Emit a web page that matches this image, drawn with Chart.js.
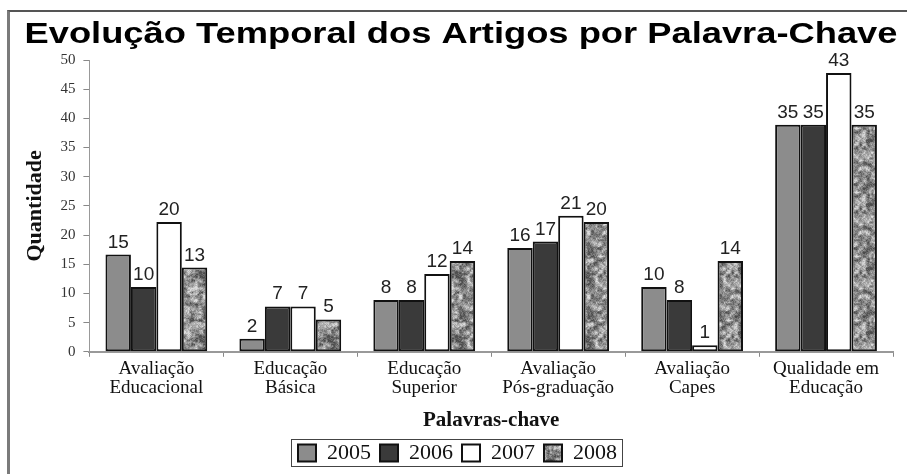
<!DOCTYPE html>
<html>
<head>
<meta charset="utf-8">
<script src="https://cdn.jsdelivr.net/npm/chart.js@4/dist/chart.umd.min.js"></script>
<style>
  html, body { margin: 0; padding: 0; background: #fff; }
  #wrap { position: relative; width: 907px; height: 474px; }
  #frame { position: absolute; left: 7px; top: 10px; right: 0; bottom: 0;
           border-left: 3px solid #7a7a7a; border-top: 2px solid #555; pointer-events: none; }
  canvas { position: absolute; left: 0; top: 0; }
</style>
</head>
<body>
<div id="wrap">
  <canvas id="chart" width="907" height="474"></canvas>
  <div id="frame"></div>
</div>
<script>
// Data
const chartTitle = 'Evolução Temporal dos Artigos por Palavra-Chave';
const categories = [
    ['Avaliação', 'Educacional'],
    ['Educação', 'Básica'],
    ['Educação', 'Superior'],
    ['Avaliação', 'Pós-graduação'],
    ['Avaliação', 'Capes'],
    ['Qualidade em', 'Educação']
];
const years = ['2005', '2006', '2007', '2008'];
const values2005 = [15, 2, 8, 16, 10, 35];
const values2006 = [10, 7, 8, 17, 8, 35];
const values2007 = [20, 7, 12, 21, 1, 43];
const values2008 = [13, 5, 14, 20, 14, 35];
// the printed axis runs 0..50, but the bars are drawn against 0..45
const yTickLabels = ['0', '5', '10', '15', '20', '25', '30', '35', '40', '45', '50'];
const yMax = 45;

// granite-like gray texture for 2008 (hash value noise, fixed seed)
function makeTexture() {
    const size = 64;
    const hash = (x, y) => {
        let h = (x * 374761393 + y * 668265263) | 0;
        h = Math.imul(h ^ (h >>> 13), 1274126177);
        return ((h ^ (h >>> 16)) >>> 0) / 4294967295;
    };
    const noise = (x, y, cell) => {
        const gx = Math.floor(x / cell), gy = Math.floor(y / cell);
        const fx = x / cell - gx, fy = y / cell - gy;
        const n = size / cell;
        const a = hash(gx % n, gy % n), b = hash((gx + 1) % n, gy % n);
        const c = hash(gx % n, (gy + 1) % n), d = hash((gx + 1) % n, (gy + 1) % n);
        const sx = fx * fx * (3 - 2 * fx), sy = fy * fy * (3 - 2 * fy);
        return (a + (b - a) * sx) * (1 - sy) + (c + (d - c) * sx) * sy;
    };
    const cv = document.createElement('canvas');
    cv.width = size; cv.height = size;
    const g = cv.getContext('2d');
    const img = g.createImageData(size, size);
    for (let y = 0; y < size; y++) {
        for (let x = 0; x < size; x++) {
            const n = 0.5 * noise(x, y, 4) + 0.3 * noise(x, y, 2) + 0.2 * noise(x, y, 1);
            const v = Math.max(75, Math.min(220, 30 + n * 240));
            const k = (y * size + x) * 4;
            img.data[k] = img.data[k + 1] = img.data[k + 2] = v;
            img.data[k + 3] = 255;
        }
    }
    g.putImageData(img, 0, 0);
    return g.createPattern(cv, 'repeat');
}

const serif = "'Liberation Serif', 'Times New Roman', serif";
const sans = "'Liberation Sans', Arial, sans-serif";

// wide bold title, drawn across the top
const wideTitle = {
    id: 'wideTitle',
    afterDraw(chart) {
        const ctx = chart.ctx;
        ctx.save();
        ctx.font = 'bold 29px ' + sans;
        ctx.fillStyle = '#000';
        ctx.textBaseline = 'alphabetic';
        ctx.textAlign = 'center';
        const w = ctx.measureText(chartTitle).width;
        ctx.translate(461, 43);
        ctx.scale(873 / w, 1);
        ctx.fillText(chartTitle, 0, 0);
        ctx.restore();
    }
};

const barLabels = {
    id: 'barLabels',
    afterDatasetsDraw(chart) {
        const ctx = chart.ctx;
        ctx.save();
        ctx.font = '19px ' + sans;
        ctx.fillStyle = '#222';
        ctx.textAlign = 'center';
        ctx.textBaseline = 'alphabetic';
        chart.data.datasets.forEach((ds, i) => {
            chart.getDatasetMeta(i).data.forEach((bar, j) => {
                ctx.fillText(String(ds.data[j]), bar.x, bar.y - 7);
            });
        });
        ctx.restore();
    }
};

const legendBox = {
    id: 'legendBox',
    afterDraw(chart) {
        const boxes = chart.legend && chart.legend.legendHitBoxes;
        if (!boxes || !boxes.length) return;
        let l = Infinity, t = Infinity, r = -Infinity, b = -Infinity;
        boxes.forEach(h => {
            l = Math.min(l, h.left); t = Math.min(t, h.top);
            r = Math.max(r, h.left + h.width); b = Math.max(b, h.top + h.height);
        });
        const ctx = chart.ctx;
        ctx.save();
        ctx.strokeStyle = '#444';
        ctx.lineWidth = 1;
        ctx.strokeRect(Math.round(l) - 6.5, Math.round(t) - 2.5, Math.round(r - l) + 12, Math.round(b - t) + 5);
        ctx.restore();
    }
};

const texture = makeTexture();

new Chart(document.getElementById('chart'), {
    type: 'bar',
    data: {
        labels: categories,
        datasets: [
            { label: years[0], data: values2005, backgroundColor: '#8c8c8c' },
            { label: years[1], data: values2006, backgroundColor: '#3a3a3a' },
            { label: years[2], data: values2007, backgroundColor: '#ffffff' },
            { label: years[3], data: values2008, backgroundColor: texture }
        ]
    },
    options: {
        responsive: false,
        animation: false,
        devicePixelRatio: 1,
        layout: { padding: { left: 22, right: 14, top: 60, bottom: 0 } },
        datasets: {
            bar: {
                borderColor: '#111',
                borderWidth: 2,
                borderSkipped: false,
                barPercentage: 1,
                categoryPercentage: 0.76
            }
        },
        scales: {
            x: {
                offset: true,
                grid: { offset: true, drawOnChartArea: false, tickLength: 5, color: '#888' },
                border: { color: '#999', width: 2 },
                ticks: { color: '#111', font: { family: serif, size: 19, lineHeight: 1.0 }, maxRotation: 0, autoSkip: false, padding: 3 },
                title: { display: true, text: 'Palavras-chave', color: '#111',
                         font: { family: serif, size: 21, weight: 'bold' }, padding: { top: 7, bottom: 0 } }
            },
            y: {
                min: 0,
                max: yMax,
                ticks: {
                    stepSize: yMax / 10,
                    color: '#333',
                    font: { family: serif, size: 15 },
                    padding: 8,
                    callback: (v, i) => yTickLabels[i]
                },
                grid: { drawOnChartArea: false, tickLength: 6, color: '#888' },
                border: { color: '#999', width: 1 },
                title: { display: true, text: 'Quantidade', color: '#111',
                         font: { family: serif, size: 22, weight: 'bold' }, padding: { top: 0, bottom: 4 } }
            }
        },
        plugins: {
            title: { display: false },
            legend: {
                position: 'bottom',
                labels: {
                    color: '#111',
                    font: { family: serif, size: 22 },
                    boxWidth: 18,
                    boxHeight: 17,
                    padding: 9
                }
            },
            tooltip: { enabled: false }
        }
    },
    plugins: [barLabels, legendBox, wideTitle]
});
</script>
</body>
</html>
